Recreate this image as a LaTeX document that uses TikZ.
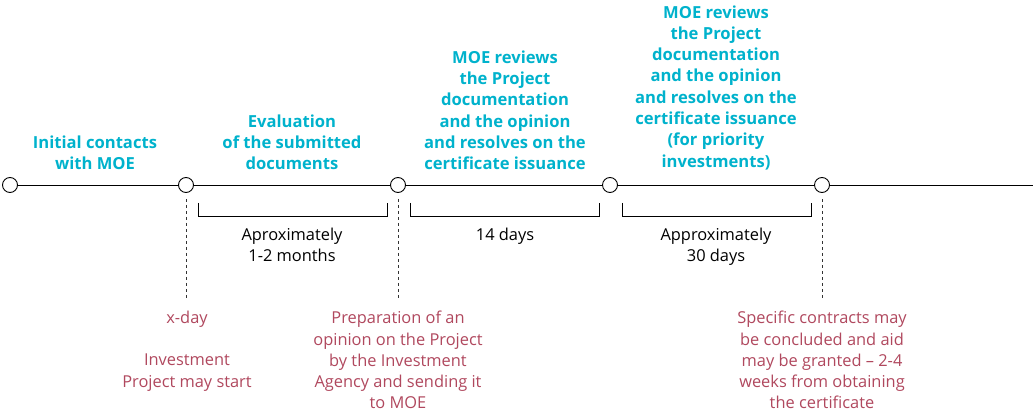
\documentclass[tikz,border=0pt]{standalone}
\usepackage{fontspec}
\setmainfont{Open Sans}
\definecolor{moeblue}{RGB}{0,178,204}
\definecolor{notered}{RGB}{176,72,94}
\begin{document}
\begin{tikzpicture}[x=1pt, y=-1pt,
  milestone/.style={circle, draw, line width=0.9pt, fill=white, minimum size=15pt, inner sep=0pt},
  stage/.style={text=moeblue, font=\fontsize{16.6}{21.3}\selectfont\bfseries, align=center, anchor=south, inner sep=0pt},
  span/.style={font=\fontsize{16.4}{20.5}\selectfont, align=center, anchor=north, inner sep=0pt},
  note/.style={text=notered, font=\fontsize{16.4}{21.3}\selectfont, align=center, anchor=north, inner sep=0pt},
  guide/.style={line width=0.9pt, black!80, dash pattern=on 3pt off 3pt}]
  \useasboundingbox (0,0) rectangle (1033,411);

  % timeline
  \foreach \i/\x in {0/10,1/186,2/398,3/610,4/822}
    \node[milestone] (m\i) at (\x,185) {};
  \coordinate (tend) at (1033,185);
  \draw[line width=0.9pt] (m0) -- (m1);
  \draw[line width=0.9pt] (m1) -- (m2);
  \draw[line width=0.9pt] (m2) -- (m3);
  \draw[line width=0.9pt] (m3) -- (m4);
  \draw[line width=0.9pt] (m4) -- (tend);

  % stages above the line
  \node[stage] (s0) at (95,170) {Initial contacts\\with MOE};
  \node[stage] (s1) at (292,170) {Evaluation\\of the submitted\\documents};
  \node[stage] (s2) at (505,170) {MOE reviews\\the Project\\documentation\\and the opinion\\and resolves on the\\certificate issuance};
  \node[stage] (s3) at (716,170) {MOE reviews\\the Project\\documentation\\and the opinion\\and resolves on the\\certificate issuance\\(for priority\\investments)};

  % durations
  \foreach \a/\b in {198/387,410/599,622/811}
    \draw[line width=0.9pt] (\a,203) -- (\a,216.5) -- (\b,216.5) -- (\b,203);
  \node[span] (d1) at (292,228) {Aproximately\\1-2 months};
  \node[span] (d2) at (505,228) {14 days};
  \node[span] (d3) at (716,228) {Approximately\\30 days};

  % dotted guides and notes
  \coordinate (g1) at (186,300);
  \coordinate (g2) at (398,300);
  \coordinate (g4) at (822,300);
  \draw[guide] (m1) ++(0,14) -- (g1);
  \draw[guide] (m2) ++(0,14) -- (g2);
  \draw[guide] (m4) ++(0,14) -- (g4);
  \node[note] (n1) at (187,311) {x-day};
  \node[note] (n2) at (187,354) {Investment\\Project may start};
  \node[note] (n3) at (398,311) {Preparation of an\\opinion on the Project\\by the Investment\\Agency and sending it\\to MOE};
  \node[note] (n4) at (822,311) {Specific contracts may\\be concluded and aid\\may be granted – 2-4\\weeks from obtaining\\the certificate};
\end{tikzpicture}
\end{document}
